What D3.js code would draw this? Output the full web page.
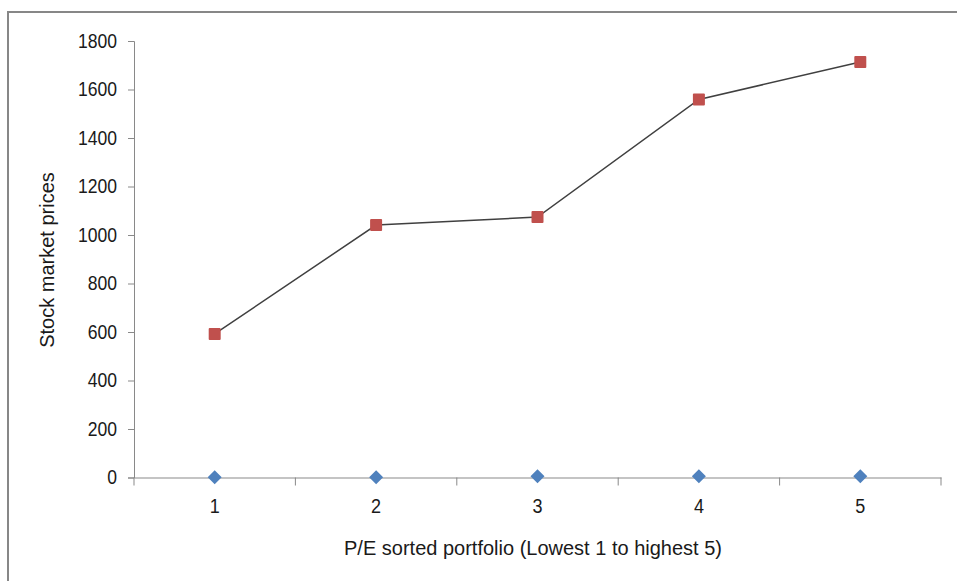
<!DOCTYPE html>
<html>
<head>
<meta charset="utf-8">
<script src="https://cdn.jsdelivr.net/npm/d3@7"></script>
<style>
  html, body { margin: 0; padding: 0; background: #fff; }
  svg { display: block; }
  text { font-family: "Liberation Sans", Arial, sans-serif; fill: #1a1a1a; }
</style>
</head>
<body>
<div id="chart"></div>
<script>
const portfolios = [1, 2, 3, 4, 5];
const prices = [592, 1041, 1074, 1559, 1713];
const peRatios = [1, 1, 5, 5, 5];
const yTicks = [0, 200, 400, 600, 800, 1000, 1200, 1400, 1600, 1800];

const width = 957;
const height = 581;
const plotLeft = 134, plotRight = 941, plotTop = 41, plotBottom = 477.5;
const squeeze = 0.9; // tick numbers in the original are slightly condensed

const svg = d3.select("#chart")
  .append("svg")
  .attr("width", width)
  .attr("height", height);

// outer chart frame (runs off the right and bottom edges)
svg.append("rect")
  .attr("x", 8)
  .attr("y", 12)
  .attr("width", 1000)
  .attr("height", 700)
  .attr("fill", "#fff")
  .attr("stroke", "#878787")
  .attr("stroke-width", 2);

const x = d3.scaleBand().domain(portfolios).range([plotLeft, plotRight]).padding(0);
const y = d3.scaleLinear().domain([0, 1800]).range([plotBottom, plotTop]);

function condense(sel) {
  sel.each(function () {
    const w = this.getComputedTextLength();
    d3.select(this)
      .attr("textLength", w * squeeze)
      .attr("lengthAdjust", "spacingAndGlyphs");
  });
}

const yAxis = svg.append("g")
  .attr("transform", `translate(${plotLeft},0)`)
  .call(d3.axisLeft(y).tickValues(yTicks).tickFormat(d3.format("d")).tickSize(6).tickPadding(11));
yAxis.select(".domain").attr("stroke", "#898989");
yAxis.selectAll(".tick line").attr("stroke", "#898989");
yAxis.selectAll(".tick text")
  .style("font-size", "19.5px")
  .style("font-family", "'Liberation Sans', Arial, sans-serif")
  .attr("fill", "#1a1a1a")
  .call(condense);

const xAxis = svg.append("g")
  .attr("transform", `translate(0,${plotBottom})`)
  .call(d3.axisBottom(x).tickSize(0).tickPadding(21).tickSizeOuter(0));
xAxis.select(".domain").attr("stroke", "#898989");
xAxis.selectAll(".tick text")
  .style("font-size", "20px")
  .style("font-family", "'Liberation Sans', Arial, sans-serif")
  .attr("fill", "#1a1a1a")
  .call(condense);

// category boundary ticks
const bounds = portfolios.map(d => x(d)).concat([x(portfolios[4]) + x.bandwidth()]);
svg.append("g")
  .selectAll("line")
  .data(bounds)
  .join("line")
  .attr("x1", d => d)
  .attr("x2", d => d)
  .attr("y1", plotBottom)
  .attr("y2", plotBottom + 8)
  .attr("stroke", "#898989");

const cxOf = d => x(d) + x.bandwidth() / 2;

// price series
const line = d3.line()
  .x((d, i) => cxOf(portfolios[i]))
  .y(d => y(d));

svg.append("path")
  .datum(prices)
  .attr("d", line)
  .attr("fill", "none")
  .attr("stroke", "#404040")
  .attr("stroke-width", 1.5);

svg.append("g")
  .selectAll("rect")
  .data(prices)
  .join("rect")
  .attr("x", (d, i) => cxOf(portfolios[i]) - 6)
  .attr("y", d => y(d) - 6)
  .attr("width", 12)
  .attr("height", 12)
  .attr("rx", 1)
  .attr("fill", "#c0504d");

// P/E series (diamonds, no line)
svg.append("g")
  .selectAll("path")
  .data(peRatios)
  .join("path")
  .attr("transform", (d, i) => `translate(${cxOf(portfolios[i])},${y(d)})`)
  .attr("d", "M0,-7L7,0L0,7L-7,0Z")
  .attr("fill", "#4f81bd");

svg.append("text")
  .attr("transform", "translate(54,260) rotate(-90)")
  .attr("text-anchor", "middle")
  .style("font-size", "20px")
  .text("Stock market prices");

svg.append("text")
  .attr("x", 533)
  .attr("y", 555)
  .attr("text-anchor", "middle")
  .style("font-size", "20px")
  .text("P/E sorted portfolio (Lowest 1 to highest 5)");
</script>
</body>
</html>
